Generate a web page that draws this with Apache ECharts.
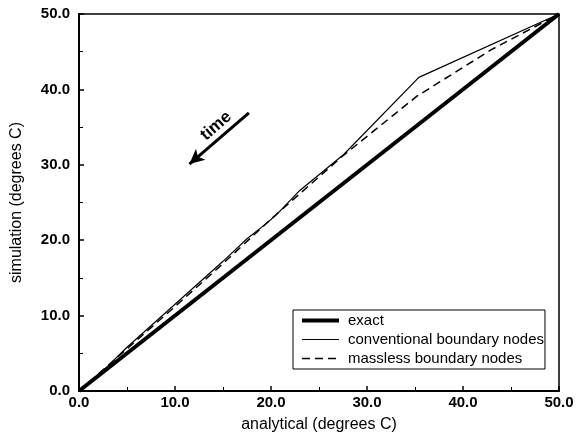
<!DOCTYPE html>
<html><head><meta charset="utf-8">
<script src="https://cdn.jsdelivr.net/npm/echarts@6/dist/echarts.min.js"></script>
<style>html,body{margin:0;padding:0;background:#fff}#c{width:579px;height:438px}</style>
</head><body><div id="c"></div>
<script>
const xTicks = [0, 10, 20, 30, 40, 50];
const exact = [[0, 0], [50, 50]];
const conventional = [[0, 0], [3, 3.3], [5, 5.8], [10, 11.5], [15, 17.2], [17.5, 20.2], [19.5, 22.2], [20.5, 23.3], [23, 26.6], [27.6, 31.4], [35.4, 41.6], [50, 50]];
const massless = [[0, 0], [5, 5.6], [10, 11.2], [15, 16.9], [20, 22.8], [25, 28.4], [27.5, 31.2], [35.2, 39.1], [43, 45.3], [50, 50]];
const arrow = [[17.7, 36.9], [11.5, 30.1]];
const names = ['exact', 'conventional boundary nodes', 'massless boundary nodes'];

const font = 'Liberation Sans, Arial, sans-serif';
const chart = echarts.init(document.getElementById('c'), null, {renderer: 'canvas'});
const axisCommon = {
  type: 'value', min: 0, max: 50, interval: 10,
  axisLine: {show: true, lineStyle: {color: '#000', width: 2}},
  axisTick: {show: true, inside: true, length: 5, lineStyle: {color: '#000', width: 1.5}},
  minorTick: {show: true, splitNumber: 2, length: 4, lineStyle: {color: '#000', width: 1}},
  splitLine: {show: false},
  axisLabel: {color: '#000', fontFamily: font, fontSize: 15, fontWeight: 'bold', formatter: v => v.toFixed(1)},
  nameTextStyle: {color: '#000', fontFamily: font, fontSize: 16}
};
chart.setOption({
  animation: false,
  grid: {left: 79, right: 20, top: 14, bottom: 45, show: true, borderColor: '#000', borderWidth: 1.5, backgroundColor: 'transparent'},
  xAxis: Object.assign({}, axisCommon, {name: 'analytical (degrees C)', nameLocation: 'middle', nameGap: 26,
    axisLabel: Object.assign({}, axisCommon.axisLabel, {margin: 4})}),
  yAxis: Object.assign({}, axisCommon, {name: 'simulation (degrees C)', nameLocation: 'middle', nameGap: 54,
    axisLabel: Object.assign({}, axisCommon.axisLabel, {margin: 9})}),
  legend: {
    orient: 'vertical', left: 293, top: 310,
    data: [
      {name: names[0], lineStyle: {width: 4}, itemStyle: {opacity: 0}},
      {name: names[1], lineStyle: {width: 1.2}, itemStyle: {opacity: 0}},
      {name: names[2], lineStyle: {width: 1.5, type: [8, 5]}, itemStyle: {opacity: 0}}
    ],
    itemWidth: 37, itemHeight: 10, itemGap: 4,
    backgroundColor: '#fff', borderColor: '#000', borderWidth: 1, padding: [3, 1, 3, 7],
    textStyle: {color: '#000', fontFamily: font, fontSize: 15, padding: [0, 0, 0, 4]},
    selectedMode: false
  },
  series: [
    {name: names[0], type: 'line', data: exact, symbol: 'none', itemStyle: {color: '#000'}, lineStyle: {color: '#000', width: 4}, z: 3},
    {name: names[1], type: 'line', data: conventional, symbol: 'none', itemStyle: {color: '#000'}, lineStyle: {color: '#000', width: 1.2}, z: 4},
    {name: names[2], type: 'line', data: massless, symbol: 'none', itemStyle: {color: '#000'}, lineStyle: {color: '#000', width: 1.5, type: [8, 5]}, z: 4,
     markLine: {silent: true, symbol: ['none', 'arrow'], symbolSize: [11, 15], label: {show: false},
       lineStyle: {color: '#000', width: 3, type: 'solid'},
       data: [[{coord: arrow[0]}, {coord: arrow[1]}]]}}
  ],
  graphic: [{type: 'text', x: 216, y: 126, rotation: 41 * Math.PI / 180,
    style: {text: 'time', fill: '#000', font: 'bold 17px ' + font, align: 'center', verticalAlign: 'middle'}}]
});
</script></body></html>
